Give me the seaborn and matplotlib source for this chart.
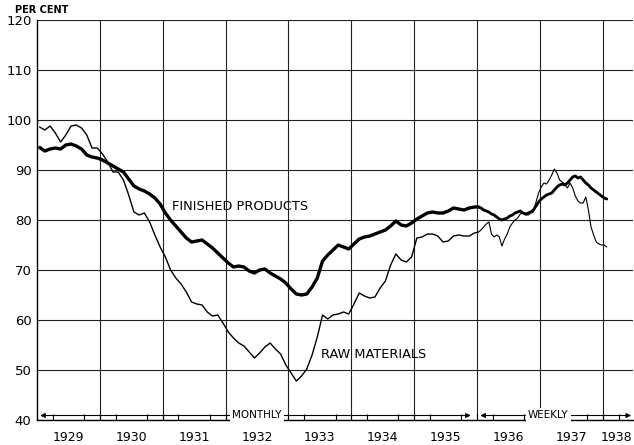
import numpy as np
import pandas as pd
import matplotlib
matplotlib.use("Agg")
import matplotlib.pyplot as plt
import seaborn as sns

# ---------------- data ----------------
years = ["1929", "1930", "1931", "1932", "1933", "1934", "1935", "1936", "1937", "1938"]
yticks = [40, 50, 60, 70, 80, 90, 100, 110, 120]

# monthly, Jan 1929 .. Dec 1935
finished_monthly = [
    94.5, 93.8, 94.2, 94.4, 94.2, 95.0, 95.2, 94.8, 94.2, 93.0, 92.6, 92.4,
    92.0, 91.4, 90.8, 90.2, 89.6, 88.2, 86.8, 86.2, 85.8, 85.2, 84.4, 83.2,
    81.4, 80.0, 78.8, 77.6, 76.4, 75.6, 75.8, 76.0, 75.2, 74.4, 73.4, 72.4,
    71.4, 70.6, 70.8, 70.6, 69.8, 69.4, 70.0, 70.2, 69.4, 68.8, 68.2, 67.4,
    66.2, 65.2, 65.0, 65.2, 66.6, 68.4, 71.8, 73.0, 74.0, 75.0, 74.6, 74.2,
    75.2, 76.2, 76.6, 76.8, 77.2, 77.6, 78.0, 78.8, 79.8, 79.0, 78.8, 79.4,
    80.2, 80.8, 81.4, 81.6, 81.4, 81.4, 81.8, 82.4, 82.2, 82.0, 82.4, 82.6,
]
raw_monthly = [
    98.6, 98.0, 98.8, 97.4, 95.6, 97.0, 98.8, 99.0, 98.4, 97.0, 94.4, 94.4,
    93.2, 91.6, 89.6, 89.6, 88.0, 85.0, 81.6, 81.0, 81.4, 79.6, 77.0, 74.6,
    72.6, 70.0, 68.4, 67.2, 65.6, 63.6, 63.2, 63.0, 61.6, 60.8, 61.0, 59.4,
    57.6, 56.4, 55.4, 54.8, 53.6, 52.4, 53.4, 54.6, 55.4, 54.2, 53.2, 51.0,
    49.4, 47.8, 48.8, 50.2, 53.0, 56.6, 61.0, 60.2, 61.0, 61.2, 61.6, 61.2,
    63.2, 65.4, 64.8, 64.4, 64.6, 66.4, 67.8, 71.0, 73.2, 72.0, 71.6, 72.6,
    76.4, 76.6, 77.2, 77.2, 76.8, 75.6, 75.8, 76.8, 77.0, 76.8, 76.8, 77.4,
]
# weekly period (sampled twice a month), Jan 1936 .. Jan 1938
finished_weekly = [
    82.6, 82.4, 82.0, 81.8, 81.6, 81.2, 81.0, 80.6, 80.2, 80.0, 80.2, 80.4,
    80.8, 81.0, 81.4, 81.6, 81.8, 81.4, 81.2, 81.4, 81.6, 82.0, 82.8, 83.6,
    84.2, 84.6, 85.0, 85.2, 85.4, 86.0, 86.6, 87.0, 87.2, 87.0, 87.4, 88.0,
    88.6, 88.8, 88.4, 88.6, 88.0, 87.4, 87.0, 86.4, 86.0, 85.6, 85.2, 84.8,
    84.4, 84.2,
]
raw_weekly = [
    77.6, 78.0, 78.6, 79.2, 79.6, 77.2, 76.6, 77.0, 76.6, 74.8, 76.2, 77.2,
    78.6, 79.4, 80.0, 80.4, 81.2, 81.4, 81.0, 81.0, 81.4, 81.6, 83.6, 85.4,
    86.6, 87.4, 87.2, 88.0, 89.0, 90.2, 89.4, 88.0, 87.6, 87.2, 86.4, 87.4,
    86.4, 84.8, 83.8, 83.4, 83.4, 84.6, 82.0, 78.6, 77.0, 75.6, 75.2, 75.0,
    75.0, 74.6,
]

# ---------------- build tables ----------------
t_month = 1929 + (np.arange(len(finished_monthly)) + 0.5) / 12.0
t_week = 1936 + (np.arange(len(finished_weekly)) + 0.5) / 24.0

df_m = pd.DataFrame({"t": np.r_[t_month, t_month],
                     "v": np.r_[finished_monthly, raw_monthly],
                     "s": ["Finished"] * len(t_month) + ["Raw"] * len(t_month)})
df_w = pd.DataFrame({"t": np.r_[t_week, t_week],
                     "v": np.r_[finished_weekly, raw_weekly],
                     "s": ["Finished"] * len(t_week) + ["Raw"] * len(t_week)})
# join monthly to weekly so the lines are continuous
df_m = pd.concat([df_m, df_w.groupby("s").head(1)], ignore_index=True).sort_values(["s", "t"])

sns.set_theme(style="white")
plt.rcParams["font.family"] = ["DejaVu Sans"]
plt.rcParams["text.color"] = "black"
plt.rcParams["xtick.color"] = "black"
plt.rcParams["ytick.color"] = "black"

fig = plt.figure(figsize=(6.34, 4.45), dpi=100)
ax = fig.add_axes([37 / 634, 25 / 445, (633 - 37) / 634, 400 / 445])

for s, lw in [("Finished", 2.4), ("Raw", 1.0)]:
    sns.lineplot(data=df_m[df_m.s == s], x="t", y="v", color="black", lw=lw,
                 ax=ax, legend=False, estimator=None, sort=False)
    sns.lineplot(data=df_w[df_w.s == s], x="t", y="v", color="black",
                 lw=lw * (0.85 if s == "Finished" else 0.8),
                 ax=ax, legend=False, estimator=None, sort=False)

ax.set_xlim(1929, 1938.48)
ax.set_ylim(40, 120)
ax.set_xlabel("")
ax.set_ylabel("")

# grid
for y in yticks:
    ax.axhline(y, color="#222222", lw=0.8, zorder=0)
for yr in range(1930, 1939):
    ax.axvline(yr, color="#222222", lw=0.8, zorder=0)

for sp in ax.spines.values():
    sp.set_color("black")
    sp.set_linewidth(1.0)
ax.spines["top"].set_visible(False)
ax.spines["right"].set_visible(False)

ax.set_yticks(yticks)
ax.set_yticklabels([str(v) for v in yticks], fontsize=9.5, color="black")
ax.tick_params(axis="y", direction="out", length=3, width=0.8, pad=1, colors="black")

ax.set_xticks([int(y) + 0.5 for y in years[:-1]] + [1938.22])
ax.set_xticklabels(years, fontsize=9, color="black")
ax.set_xticks(np.arange(1929, 1938.5, 0.25), minor=True)
ax.tick_params(axis="x", which="major", length=0, pad=8, colors="black")
ax.tick_params(axis="x", which="minor", direction="in", length=4, width=0.8, bottom=True)

# arrows for monthly / weekly
ya = 40.9
ax.annotate("", xy=(1929.05, ya), xytext=(1935.9, ya),
            arrowprops=dict(arrowstyle="<|-|>", color="black", lw=0.8,
                            mutation_scale=7, shrinkA=0, shrinkB=0))
ax.annotate("", xy=(1936.05, ya), xytext=(1938.45, ya),
            arrowprops=dict(arrowstyle="<|-|>", color="black", lw=0.8,
                            mutation_scale=7, shrinkA=0, shrinkB=0))
ax.text(1932.5, ya, "MONTHLY", fontsize=7.5, ha="center", va="center", color="black",
        bbox=dict(facecolor="white", edgecolor="none", pad=1.5))
ax.text(1937.13, ya, "WEEKLY", fontsize=7.5, ha="center", va="center", color="black",
        bbox=dict(facecolor="white", edgecolor="none", pad=1.5))

# series labels
ax.text(1931.14, 82.6, "FINISHED PRODUCTS", fontsize=9.3, ha="left", va="center", color="black")
ax.text(1933.52, 53.2, "RAW MATERIALS", fontsize=9.3, ha="left", va="center", color="black")

fig.text(15 / 634, 1 - 10 / 445, "PER CENT", fontsize=7, ha="left", va="center",
         fontweight="bold", color="black")

fig.savefig("out.png", dpi=100)
